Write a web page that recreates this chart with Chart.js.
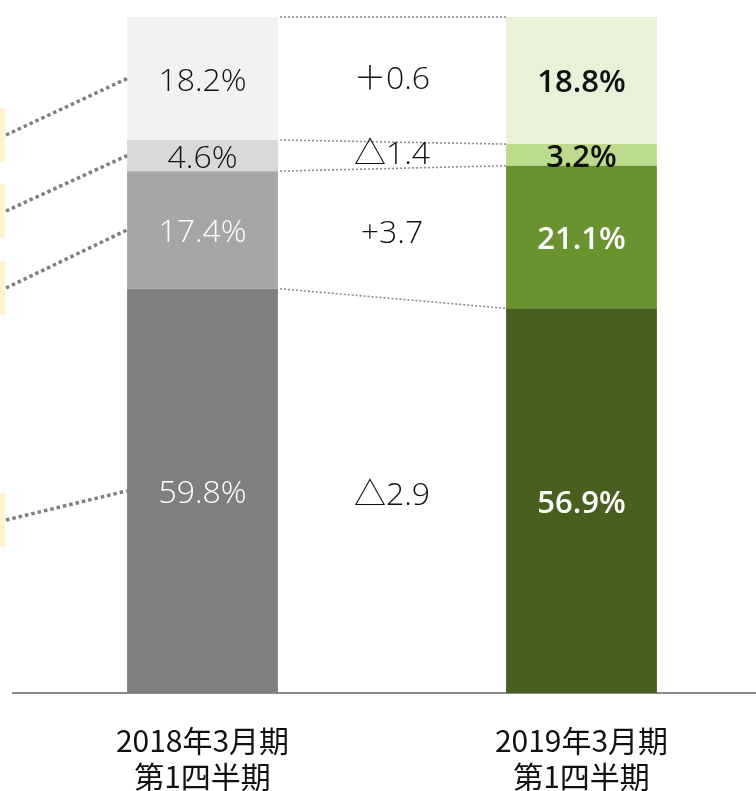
<!DOCTYPE html>
<html lang="ja">
<head>
<meta charset="utf-8">
<title>構成比</title>
<script src="https://cdn.jsdelivr.net/npm/chart.js@4.4.1/dist/chart.umd.min.js"></script>
<style>
    html, body { margin: 0; padding: 0; background: #ffffff; overflow: hidden; }
    #wrap { position: relative; width: 771px; height: 791px; }
</style>
</head>
<body>
<div id="wrap"><canvas id="shareChart"></canvas></div>
<script>
/* ===============================================
   DATA
   =============================================== */

// x categories (two-line tick labels)
const categories = [
    ['2018年3月期', '第1四半期'],
    ['2019年3月期', '第1四半期']
];

// segment shares in %, bottom of the stack first
const segmentBottom = [59.8, 56.9];
const segmentLower = [17.4, 21.1];
const segmentUpper = [4.6, 3.2];
const segmentTop = [18.2, 18.8];

// change labels between the two bars, bottom first
const changeLabels = ['△2.9', '+3.7', '△1.4', '＋0.6'];

// colours per bar: [2018, 2019]
const bottomColors = ['#7f7f7f', '#48601f'];
const lowerColors = ['#a6a6a6', '#6a922f'];
const upperColors = ['#d9d9d9', '#bddb8d'];
const topColors = ['#f2f2f2', '#e7f2d8'];

// value label colours per bar
const bottomText = ['#ffffff', '#ffffff'];
const lowerText = ['#ffffff', '#ffffff'];
const upperText = ['#111111', '#111111'];
const topText = ['#111111', '#111111'];

/* ===============================================
   ANNOTATIONS
   =============================================== */

// centres of the (cropped) legend boxes on the left edge, one per segment
const legendBoxCenters = [520, 288, 211, 135];
const legendBoxHeight = 54;

const annotations = {
    id: 'annotations',

    afterDatasetsDraw(chart) {
        const ctx = chart.ctx;
        const metas = chart.data.datasets.map((_, i) => chart.getDatasetMeta(i));

        ctx.save();

        // legend boxes cut by the left edge
        ctx.fillStyle = '#fff2cc';
        legendBoxCenters.forEach(c => {
            ctx.fillRect(0, c - legendBoxHeight / 2, 5, legendBoxHeight);
        });

        // thick dotted leaders from the boxes to the 2018 bar
        ctx.strokeStyle = '#7f7f7f';
        ctx.lineWidth = 3.5;
        ctx.setLineDash([3.5, 3]);
        metas.forEach((meta, i) => {
            const bar = meta.data[0];
            ctx.beginPath();
            ctx.moveTo(6, legendBoxCenters[i]);
            ctx.lineTo(bar.x - bar.width / 2, (bar.y + bar.base) / 2);
            ctx.stroke();
        });

        // thin dotted connectors between segment tops
        ctx.strokeStyle = '#8a8a8a';
        ctx.lineWidth = 1.6;
        ctx.setLineDash([2, 2]);
        metas.forEach(meta => {
            const a = meta.data[0];
            const b = meta.data[1];
            ctx.beginPath();
            ctx.moveTo(a.x + a.width / 2 + 2, a.y);
            ctx.lineTo(b.x - b.width / 2, b.y);
            ctx.stroke();
        });
        ctx.setLineDash([]);

        ctx.textAlign = 'center';
        ctx.textBaseline = 'middle';

        // value labels inside the bars
        metas.forEach((meta, i) => {
            const ds = chart.data.datasets[i];
            meta.data.forEach((bar, j) => {
                ctx.font = j === 0
                    ? "300 32px 'Open Sans', sans-serif"
                    : "600 31px 'Open Sans', sans-serif";
                ctx.fillStyle = ds.textColors[j];
                ctx.fillText(ds.data[j].toFixed(1) + '%', bar.x, (bar.y + bar.base) / 2 + 3);
            });
        });

        // change labels between the bars
        ctx.font = "300 32px 'Open Sans', 'Noto Sans CJK JP', sans-serif";
        ctx.fillStyle = '#111111';
        metas.forEach((meta, i) => {
            const a = meta.data[0];
            const b = meta.data[1];
            const x = (a.x + a.width / 2 + b.x - b.width / 2) / 2;
            const y = ((a.y + a.base) / 2 + (b.y + b.base) / 2) / 2;
            ctx.fillText(changeLabels[i], x, y);
        });

        ctx.restore();
    }
};

/* ===============================================
   CHART
   =============================================== */

function makeSegment(label, data, colors, textColors) {
    return {
        label: label,
        data: data,
        backgroundColor: colors,
        textColors: textColors,
        borderWidth: 0,
        categoryPercentage: 1,
        barPercentage: 0.398
    };
}

const config = {
    type: 'bar',
    data: {
        labels: categories,
        datasets: [
            makeSegment('bottom', segmentBottom, bottomColors, bottomText),
            makeSegment('lower', segmentLower, lowerColors, lowerText),
            makeSegment('upper', segmentUpper, upperColors, upperText),
            makeSegment('top', segmentTop, topColors, topText)
        ]
    },
    options: {
        responsive: true,
        maintainAspectRatio: false,
        animation: false,
        layout: {
            padding: { left: 13, right: 0, top: 17, bottom: 0 }
        },
        plugins: {
            legend: { display: false },
            tooltip: { enabled: false }
        },
        scales: {
            x: {
                stacked: true,
                grid: { display: false, drawTicks: false },
                border: { display: true, color: '#8c8c8c', width: 2 },
                ticks: {
                    color: '#111111',
                    padding: 30,
                    font: {
                        size: 30,
                        family: "'Noto Sans CJK JP', sans-serif",
                        lineHeight: 1.2
                    }
                },
                afterFit(scale) {
                    scale.height = 98;
                }
            },
            y: {
                stacked: true,
                display: false,
                min: 0,
                max: 100
            }
        }
    },
    plugins: [annotations]
};

new Chart(document.getElementById('shareChart'), config);
</script>
</body>
</html>
